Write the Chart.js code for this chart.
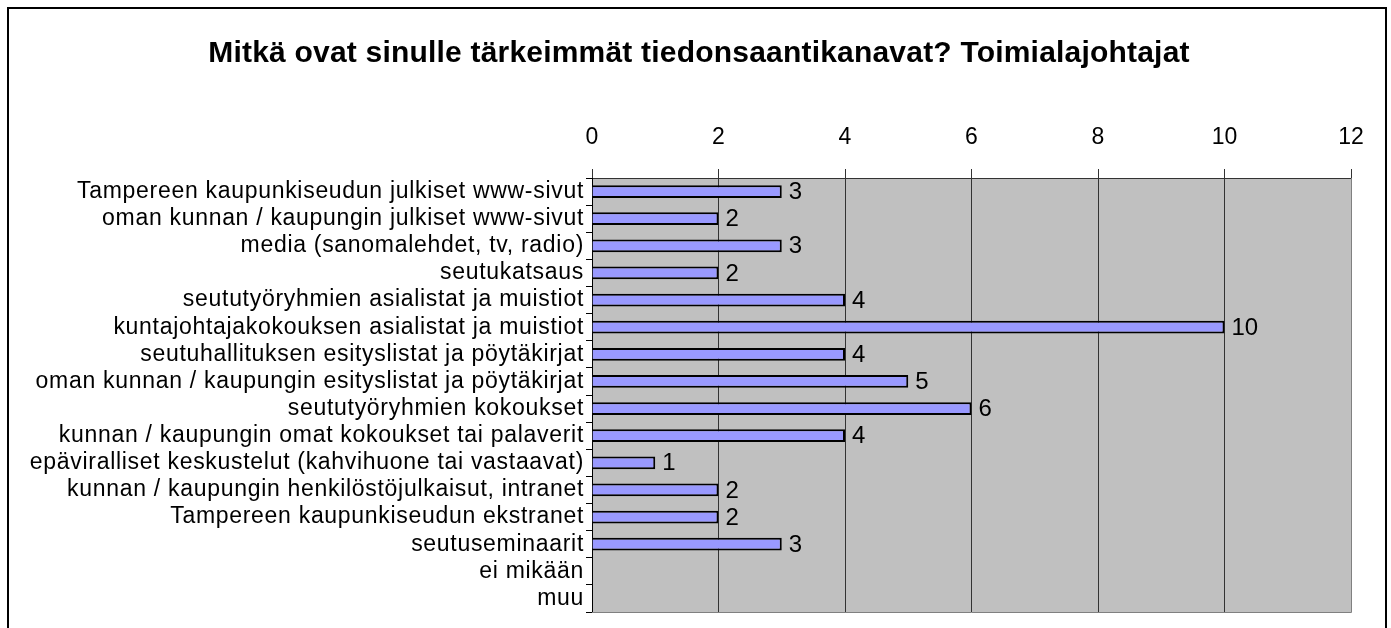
<!DOCTYPE html>
<html>
<head>
<meta charset="utf-8">
<script src="https://cdn.jsdelivr.net/npm/chart.js@4/dist/chart.umd.min.js"></script>
<style>
    body { margin: 0; background: #fff; }
    #frame {
        position: absolute;
        left: 7px;
        top: 7px;
        width: 1376px;
        height: 640px;
        border: 2px solid #000;
    }
    #wrap { position: absolute; left: 0; top: 0; width: 1391px; height: 628px; }
</style>
</head>
<body>
<div id="frame"></div>
<div id="wrap"><canvas id="chart"></canvas></div>
<script>
const chartTitle = "Mitkä ovat sinulle tärkeimmät tiedonsaantikanavat? Toimialajohtajat";
const channels = [
    "Tampereen kaupunkiseudun julkiset www-sivut",
    "oman kunnan / kaupungin julkiset www-sivut",
    "media (sanomalehdet, tv, radio)",
    "seutukatsaus",
    "seututyöryhmien asialistat ja muistiot",
    "kuntajohtajakokouksen asialistat ja muistiot",
    "seutuhallituksen esityslistat ja pöytäkirjat",
    "oman kunnan / kaupungin esityslistat ja pöytäkirjat",
    "seututyöryhmien kokoukset",
    "kunnan / kaupungin omat kokoukset tai palaverit",
    "epäviralliset keskustelut (kahvihuone tai vastaavat)",
    "kunnan / kaupungin henkilöstöjulkaisut, intranet",
    "Tampereen kaupunkiseudun ekstranet",
    "seutuseminaarit",
    "ei mikään",
    "muu"
];
const answers = [3, 2, 3, 2, 4, 10, 4, 5, 6, 4, 1, 2, 2, 3, 0, 0];
const xTicks = [0, 2, 4, 6, 8, 10, 12];

const FONT = "'Liberation Sans', Arial, sans-serif";

// gray plot background + darker right/bottom edge
const plotBg = {
    id: "plotBg",
    beforeDraw(chart) {
        const { ctx, chartArea: a } = chart;
        ctx.save();
        ctx.fillStyle = "#c0c0c0";
        ctx.fillRect(a.left, a.top, a.right - a.left, a.bottom - a.top);
        ctx.restore();
    },
    afterDraw(chart) {
        const { ctx, chartArea: a } = chart;
        ctx.save();
        ctx.strokeStyle = "#808080";
        ctx.lineWidth = 1;
        ctx.beginPath();
        ctx.moveTo(a.left, a.bottom + 0.5);
        ctx.lineTo(a.right + 0.5, a.bottom + 0.5);
        ctx.lineTo(a.right + 0.5, a.top);
        ctx.stroke();
        ctx.restore();
    }
};

// title centred on the whole frame, not on the plot
const frameTitle = {
    id: "frameTitle",
    afterDraw(chart) {
        const { ctx } = chart;
        ctx.save();
        ctx.font = "bold 30px " + FONT;
        ctx.letterSpacing = "0.2px";
        ctx.fillStyle = "#000";
        ctx.textAlign = "center";
        ctx.textBaseline = "middle";
        ctx.fillText(chartTitle, 699, 54);
        ctx.restore();
    }
};

// category names, drawn by hand so they can be letter-spaced
const categoryNames = {
    id: "categoryNames",
    afterDraw(chart) {
        const { ctx } = chart;
        const yScale = chart.scales.y;
        ctx.save();
        ctx.font = "23px " + FONT;
        ctx.letterSpacing = "0.7px";
        ctx.fillStyle = "#000";
        ctx.textAlign = "right";
        ctx.textBaseline = "middle";
        channels.forEach((name, i) => {
            ctx.fillText(name, 584, yScale.getPixelForValue(i));
        });
        ctx.restore();
    }
};

// value labels to the right of each bar
const barValues = {
    id: "barValues",
    afterDatasetsDraw(chart) {
        const { ctx } = chart;
        const meta = chart.getDatasetMeta(0);
        ctx.save();
        ctx.font = "24px " + FONT;
        ctx.fillStyle = "#000";
        ctx.textAlign = "left";
        ctx.textBaseline = "middle";
        meta.data.forEach((bar, i) => {
            if (!answers[i]) return;
            ctx.fillText(String(answers[i]), bar.x + 7, bar.y + 1);
        });
        ctx.restore();
    }
};

new Chart(document.getElementById("chart"), {
    type: "bar",
    data: {
        labels: channels,
        datasets: [{
            data: answers,
            backgroundColor: "#9999ff",
            borderColor: "#000",
            borderWidth: 2,
            barPercentage: 0.47,
            categoryPercentage: 1
        }]
    },
    options: {
        indexAxis: "y",
        responsive: true,
        maintainAspectRatio: false,
        animation: false,
        layout: { padding: { left: 0, right: 40, top: 112, bottom: 16 } },
        plugins: {
            legend: { display: false },
            tooltip: { enabled: false },
            title: { display: false }
        },
        scales: {
            x: {
                position: "top",
                min: 0,
                max: 12,
                afterBuildTicks(scale) {
                    scale.ticks = xTicks.map(v => ({ value: v }));
                },
                afterFit(scale) { scale.height = 66; },
                ticks: {
                    color: "#000",
                    padding: 18,
                    font: { family: FONT, size: 23 }
                },
                grid: {
                    color: "#333",
                    lineWidth: 1,
                    tickLength: 9
                },
                border: { color: "#333", width: 1 }
            },
            y: {
                afterFit(scale) { scale.width = 592; },
                ticks: { display: false },
                grid: {
                    drawOnChartArea: false,
                    color: "#000",
                    tickLength: 6
                },
                border: { color: "#000", width: 1 }
            }
        }
    },
    plugins: [plotBg, frameTitle, categoryNames, barValues]
});
</script>
</body>
</html>
